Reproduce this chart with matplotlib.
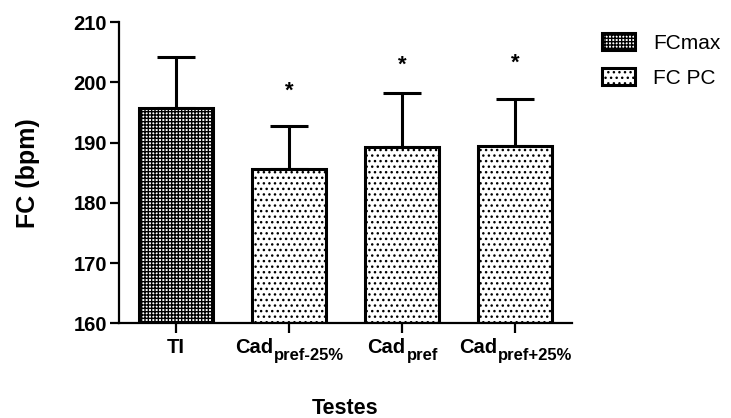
import matplotlib
matplotlib.use("Agg")
import matplotlib.pyplot as plt

plt.rcParams["font.family"] = ["Liberation Sans", "DejaVu Sans"]
plt.rcParams["hatch.linewidth"] = 1.0

# dados
testes = ["TI", "Cad", "Cad", "Cad"]
testes_sub = ["", "pref-25%", "pref", "pref+25%"]
media = [195.7, 185.7, 189.25, 189.5]
dp = [8.6, 7.0, 9.0, 7.7]
grupo = ["FCmax", "FC PC", "FC PC", "FC PC"]
asterisco = [None, 199.0, 203.2, 203.6]

hachura = {"FCmax": "+++++", "FC PC": "..."}

W, H = 731, 418
fig = plt.figure(figsize=(W / 100, H / 100), dpi=100)
ax = fig.add_axes([0.1628, 0.2266, 0.6197, 0.7201])

x = list(range(len(testes)))
for i in x:
    ax.bar(i, media[i] - 160, bottom=160, width=0.655, color="white",
           edgecolor="black", linewidth=2.2, hatch=hachura[grupo[i]],
           label=grupo[i] if grupo[i] not in grupo[:i] else None, zorder=2)
ax.errorbar(x, media, yerr=[[0] * len(dp), dp], fmt="none", ecolor="black",
            elinewidth=2.2, capsize=13.5, capthick=2.2, zorder=1)

for i, s in enumerate(asterisco):
    if s is not None:
        ax.text(i, s - 1.3, "*", ha="center", va="baseline",
                fontsize=16, fontweight="bold")

ax.set_ylim(160, 210)
ax.set_xlim(-0.5, 3.5)
ax.set_yticks([160, 170, 180, 190, 200, 210])
ax.set_xticks(x)
ax.set_xticklabels([""] * len(x))
for t in ax.get_yticklabels():
    t.set_fontsize(14.5)
    t.set_fontweight("bold")

for s in ["top", "right"]:
    ax.spines[s].set_visible(False)
for s in ["left", "bottom"]:
    ax.spines[s].set_linewidth(1.6)
ax.tick_params(axis="y", length=6.5, width=1.6, pad=2)
ax.tick_params(axis="x", length=7, width=1.6, pad=5)

ax.set_ylabel("FC (bpm)", fontsize=18, fontweight="bold", labelpad=24)
fig.text(345.5 / W, 1 - 414 / H, "Testes", fontsize=15.5, fontweight="bold",
         ha="center", va="baseline")

ax.legend(loc="upper left", bbox_to_anchor=(0.8235, 0.92),
          bbox_transform=fig.transFigure, frameon=False, fontsize=15,
          handlelength=1.6, handleheight=0.87, handletextpad=0.87,
          labelspacing=0.72, borderpad=0, borderaxespad=0)

# rotulos do eixo x com subscrito
r = fig.canvas.get_renderer()
base = 1 - 353 / H
base_sub = 1 - 360 / H
for i in x:
    px = ax.transData.transform((i, 160))[0]
    t1 = fig.text(0, base, testes[i], fontsize=14.5, fontweight="bold", va="baseline")
    t2 = fig.text(0, base_sub, testes_sub[i], fontsize=12, fontweight="bold", va="baseline")
    w1 = t1.get_window_extent(r).width
    w2 = t2.get_window_extent(r).width if testes_sub[i] else 0
    x0 = px - (w1 + w2) / 2
    t1.set_x(x0 / W)
    t2.set_x((x0 + w1 + 1) / W)

fig.savefig("out.png", dpi=100)
